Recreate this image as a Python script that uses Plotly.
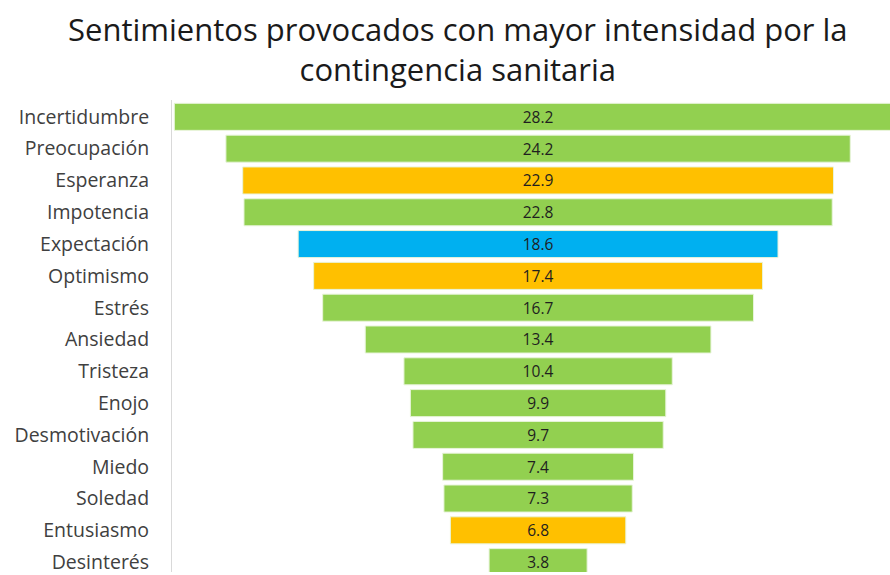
import plotly.graph_objects as go

sentimientos = [
    "Incertidumbre", "Preocupación", "Esperanza", "Impotencia", "Expectación",
    "Optimismo", "Estrés", "Ansiedad", "Tristeza", "Enojo", "Desmotivación",
    "Miedo", "Soledad", "Entusiasmo", "Desinterés",
]
porcentajes = [28.2, 24.2, 22.9, 22.8, 18.6, 17.4, 16.7, 13.4, 10.4, 9.9, 9.7, 7.4, 7.3, 6.8, 3.8]
# tipo de sentimiento: negativo (verde), positivo (naranja), neutro (azul)
tipo = ["neg", "neg", "pos", "neg", "neu", "pos", "neg", "neg", "neg", "neg", "neg", "neg", "neg", "pos", "neg"]

colores = {"neg": "#92D050", "pos": "#FFC000", "neu": "#00B0F0"}

fig = go.Figure()
fig.add_trace(
    go.Funnel(
        y=sentimientos,
        x=porcentajes,
        orientation="h",
        marker=dict(color=[colores[t] for t in tipo], line=dict(color="#E8F4DA", width=1)),
        text=[f"{v:.1f}" for v in porcentajes],
        textinfo="text",
        textposition="inside",
        insidetextanchor="middle",
        textfont=dict(family="Open Sans", size=17, color="#1f1f1f"),
        connector=dict(visible=False),
        width=0.85,
    )
)

fig.add_annotation(
    text="Sentimientos provocados con mayor intensidad por la<br>contingencia sanitaria",
    xref="paper", yref="paper",
    x=0.398, y=1.2,
    xanchor="center", yanchor="top",
    showarrow=False,
    font=dict(family="Open Sans", size=31, color="#1a1a1a"),
)

fig.update_layout(
    width=890,
    height=575,
    margin=dict(l=172, r=0, t=100, b=0),
    paper_bgcolor="white",
    plot_bgcolor="white",
    showlegend=False,
)
fig.update_xaxes(range=[-14.19, 13.64], visible=False)
fig.update_yaxes(
    range=[14.31, -0.53],
    autorange=False,
    showline=True,
    linecolor="#D9D9D9",
    linewidth=1,
    ticks="",
    ticklabelstandoff=18,
    tickfont=dict(family="Open Sans", size=19.5, color="#404040"),
    showgrid=False,
)

fig.write_html(
    "out.html",
    config={"displayModeBar": False},
    post_script="document.body.style.margin='0';document.body.style.overflow='hidden';",
)
